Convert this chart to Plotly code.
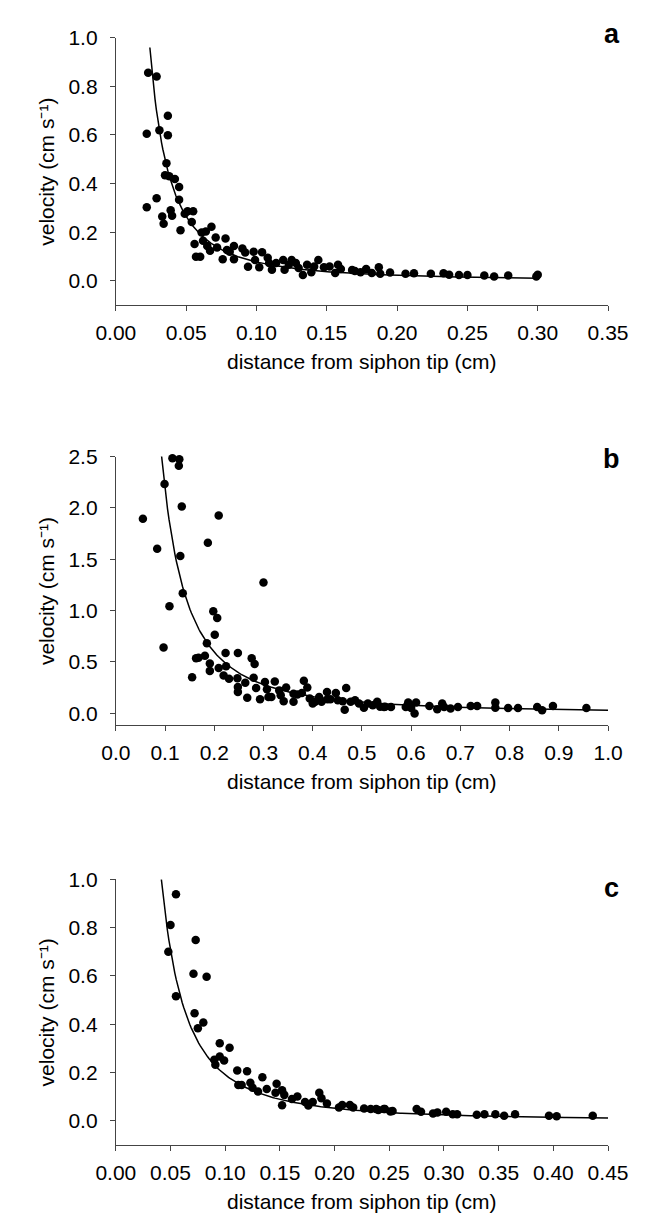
import numpy as np
import plotly.graph_objects as go

# ---------------- data ----------------
a_x = [0.023, 0.029, 0.022, 0.031, 0.037, 0.037, 0.036, 0.035, 0.038, 0.042, 0.045, 0.022, 0.029, 0.045,
       0.033, 0.034, 0.039, 0.040, 0.046, 0.049, 0.051, 0.055, 0.054, 0.056, 0.057, 0.060, 0.061, 0.064,
       0.062, 0.068, 0.067, 0.065, 0.071, 0.072, 0.076, 0.078, 0.079, 0.081, 0.084, 0.084, 0.090, 0.092,
       0.094, 0.098, 0.099, 0.102, 0.104, 0.108, 0.109, 0.111, 0.114, 0.119, 0.120, 0.123, 0.125, 0.128,
       0.130, 0.133, 0.136, 0.139, 0.141, 0.144, 0.148, 0.152, 0.156, 0.158, 0.160, 0.168, 0.170, 0.174,
       0.178, 0.182, 0.187, 0.188, 0.195, 0.206, 0.212, 0.224, 0.233, 0.237, 0.244, 0.250, 0.262, 0.269,
       0.279, 0.299, 0.300]
a_y = [0.856, 0.841, 0.605, 0.619, 0.679, 0.599, 0.484, 0.434, 0.430, 0.419, 0.386, 0.303, 0.340, 0.333,
       0.265, 0.235, 0.290, 0.268, 0.208, 0.276, 0.286, 0.286, 0.242, 0.151, 0.099, 0.099, 0.199, 0.203,
       0.165, 0.222, 0.124, 0.143, 0.178, 0.137, 0.089, 0.174, 0.127, 0.120, 0.143, 0.089, 0.133, 0.116,
       0.058, 0.120, 0.086, 0.056, 0.117, 0.095, 0.073, 0.045, 0.073, 0.086, 0.045, 0.066, 0.086, 0.073,
       0.053, 0.024, 0.066, 0.035, 0.059, 0.086, 0.056, 0.059, 0.032, 0.066, 0.049, 0.044, 0.040, 0.035,
       0.049, 0.032, 0.056, 0.029, 0.034, 0.029, 0.031, 0.029, 0.031, 0.025, 0.024, 0.024, 0.022, 0.018,
       0.022, 0.018, 0.025]

b_x = [0.055, 0.084, 0.097, 0.099, 0.109, 0.115, 0.129, 0.128, 0.134, 0.131, 0.136, 0.155, 0.163, 0.168,
       0.181, 0.185, 0.187, 0.191, 0.191, 0.198, 0.206, 0.201, 0.209, 0.209, 0.219, 0.223, 0.224, 0.230,
       0.247, 0.248, 0.248, 0.248, 0.263, 0.267, 0.276, 0.282, 0.280, 0.285, 0.293, 0.300, 0.303, 0.307,
       0.310, 0.316, 0.323, 0.332, 0.335, 0.341, 0.346, 0.361, 0.361, 0.369, 0.378, 0.382, 0.389, 0.394,
       0.400, 0.405, 0.413, 0.418, 0.429, 0.430, 0.436, 0.447, 0.451, 0.461, 0.465, 0.468, 0.477, 0.486,
       0.494, 0.504, 0.512, 0.522, 0.531, 0.537, 0.547, 0.545, 0.559, 0.589, 0.594, 0.600, 0.607, 0.610,
       0.637, 0.653, 0.663, 0.667, 0.680, 0.695, 0.721, 0.734, 0.771, 0.771, 0.797, 0.817, 0.856, 0.866,
       0.888, 0.956]
b_y = [1.895, 1.602, 0.640, 2.233, 1.042, 2.484, 2.474, 2.410, 2.014, 1.532, 1.168, 0.350, 0.534, 0.540,
       0.560, 0.682, 1.660, 0.483, 0.412, 0.994, 0.927, 0.763, 1.927, 0.441, 0.367, 0.586, 0.457, 0.335,
       0.341, 0.586, 0.254, 0.206, 0.296, 0.151, 0.534, 0.479, 0.344, 0.245, 0.135, 1.274, 0.303, 0.232,
       0.158, 0.158, 0.309, 0.222, 0.174, 0.116, 0.251, 0.190, 0.110, 0.183, 0.196, 0.315, 0.251, 0.142,
       0.094, 0.110, 0.158, 0.110, 0.206, 0.135, 0.135, 0.196, 0.125, 0.116, 0.032, 0.245, 0.110, 0.125,
       0.094, 0.052, 0.094, 0.078, 0.110, 0.062, 0.062, 0.061, 0.061, 0.061, 0.103, 0.050, -0.003, 0.103,
       0.070, 0.039, 0.094, 0.061, 0.045, 0.061, 0.070, 0.070, 0.103, 0.052, 0.051, 0.051, 0.061, 0.029,
       0.070, 0.051]

c_x = [0.055, 0.050, 0.048, 0.055, 0.073, 0.071, 0.083, 0.072, 0.080, 0.075, 0.095, 0.104, 0.095, 0.090,
       0.099, 0.091, 0.111, 0.120, 0.112, 0.115, 0.123, 0.125, 0.134, 0.130, 0.138, 0.147, 0.146, 0.152,
       0.154, 0.152, 0.161, 0.166, 0.173, 0.176, 0.180, 0.186, 0.188, 0.193, 0.204, 0.207, 0.214, 0.217,
       0.227, 0.233, 0.238, 0.240, 0.245, 0.246, 0.251, 0.253, 0.275, 0.279, 0.290, 0.294, 0.302, 0.308,
       0.312, 0.330, 0.337, 0.347, 0.355, 0.365, 0.396, 0.403, 0.436]
c_y = [0.939, 0.811, 0.700, 0.516, 0.749, 0.609, 0.597, 0.445, 0.407, 0.383, 0.321, 0.302, 0.266, 0.253,
       0.249, 0.232, 0.208, 0.205, 0.148, 0.148, 0.157, 0.137, 0.180, 0.121, 0.131, 0.153, 0.116, 0.126,
       0.107, 0.064, 0.090, 0.100, 0.077, 0.063, 0.077, 0.116, 0.093, 0.071, 0.055, 0.065, 0.065, 0.055,
       0.051, 0.048, 0.048, 0.044, 0.048, 0.048, 0.038, 0.040, 0.048, 0.037, 0.030, 0.034, 0.037, 0.027,
       0.027, 0.025, 0.027, 0.027, 0.020, 0.027, 0.020, 0.018, 0.020]

# fitted power-law curves  v = k * (d / d0) ** p  (parameters)
fit_a = dict(d0=0.0242, k=0.96, p=-1.775, xmax=0.300)
fit_b = dict(d0=0.0929, k=2.507, p=-1.877, xmax=1.000)
fit_c = dict(d0=0.0416, k=1.001, p=-1.894, xmax=0.450)

panel_labels = ["a", "b", "c"]
x_ranges = [[0, 0.35], [0, 1.0], [0, 0.45]]
y_ranges = [[-0.1, 1.0], [-0.115, 2.5], [-0.1, 1.0]]
x_dticks = [0.05, 0.1, 0.05]
x_formats = [".2f", ".1f", ".2f"]
y_dticks = [0.2, 0.5, 0.2]
x_title = "distance from siphon tip (cm)"
y_title = "velocity (cm s\u207b\u00b9)"

# ---------------- layout geometry ----------------
W, H = 660, 1227
plot_left, plot_right = 102, 626
plot_rows = [(26, 296), (449, 720), (876, 1144)]  # top, bottom (px)
label_y = [22, 451, 885]
xtitle_gap = 57
ytitle_x = 28

FONT = "Liberation Sans"

fig = go.Figure()
datasets = [(a_x, a_y, fit_a), (b_x, b_y, fit_b), (c_x, c_y, fit_c)]
for i, (xs, ys, fit) in enumerate(datasets):
    ax = "" if i == 0 else str(i + 1)
    xx = np.linspace(fit["d0"], fit["xmax"], 300)
    yy = fit["k"] * (xx / fit["d0"]) ** fit["p"]
    fig.add_trace(go.Scatter(x=xx, y=yy, mode="lines", line=dict(color="black", width=1.5),
                             xaxis="x" + ax, yaxis="y" + ax, showlegend=False, hoverinfo="skip"))
    fig.add_trace(go.Scatter(x=xs, y=ys, mode="markers",
                             marker=dict(color="black", size=8.5, line=dict(width=0)),
                             xaxis="x" + ax, yaxis="y" + ax, showlegend=False, cliponaxis=False))

    top, bot = plot_rows[i]
    ydom = [1 - bot / H, 1 - top / H]
    xdom = [plot_left / W, plot_right / W]
    axis_common = dict(showgrid=False, zeroline=False, showline=True, linecolor="#444444", linewidth=1,
                       ticks="outside", ticklen=5, tickwidth=1, tickcolor="#444444",
                       tickfont=dict(family=FONT, size=21, color="black"))
    fig.update_layout(**{
        "xaxis" + ax: dict(domain=xdom, range=x_ranges[i], dtick=x_dticks[i], tick0=0,
                           tickformat=x_formats[i], anchor="y" + ax, ticklabelstandoff=4,
                           **axis_common),
        "yaxis" + ax: dict(domain=ydom, range=y_ranges[i], dtick=y_dticks[i], tick0=0,
                           tickformat=".1f", anchor="x" + ax, ticklabelstandoff=8,
                           **axis_common),
    })
    # axis titles
    fig.add_annotation(text=x_title, xref="paper", yref="paper",
                       x=(plot_left + plot_right) / 2 / W, y=1 - (bot + xtitle_gap) / H,
                       xanchor="center", yanchor="middle", showarrow=False,
                       font=dict(family=FONT, size=21, color="black"))
    fig.add_annotation(text=y_title, xref="paper", yref="paper", textangle=-90,
                       x=ytitle_x / W, y=1 - (top + bot) / 2 / H,
                       xanchor="center", yanchor="middle", showarrow=False,
                       font=dict(family=FONT, size=21, color="black"))
    # panel letter
    fig.add_annotation(text="<b>%s</b>" % panel_labels[i], xref="paper", yref="paper",
                       x=630 / W, y=1 - label_y[i] / H, xanchor="center", yanchor="middle",
                       showarrow=False, font=dict(family=FONT, size=27, color="black"))

fig.update_layout(width=W, height=H, margin=dict(l=0, r=0, t=0, b=0),
                  paper_bgcolor="white", plot_bgcolor="white",
                  font=dict(family=FONT, color="black"))

fig.write_html("out.html", config={"displayModeBar": False},
               post_script="document.body.style.margin='0px';")
